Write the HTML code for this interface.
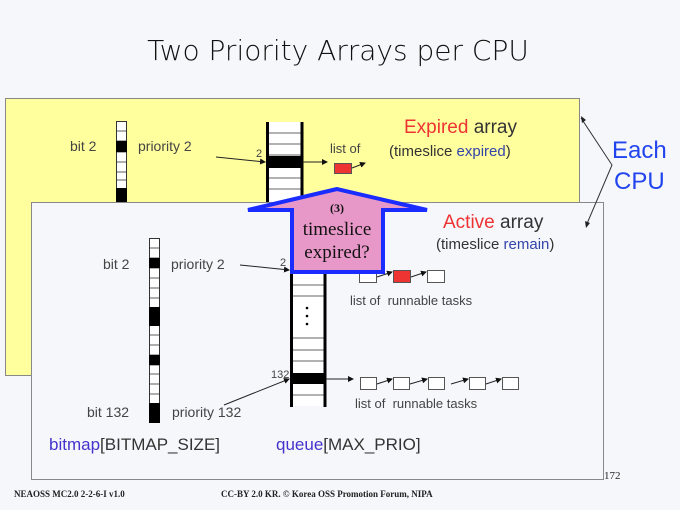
<!DOCTYPE html>
<html><head><meta charset="utf-8"><style>
html,body{margin:0;padding:0;background:#f6f7fb;}
svg{display:block;font-family:"Liberation Sans",sans-serif;}
</style></head><body>
<svg width="680" height="510" viewBox="0 0 680 510" xmlns="http://www.w3.org/2000/svg">
<defs>
<marker id="ah" markerWidth="6" markerHeight="6" refX="5" refY="3" orient="auto" markerUnits="userSpaceOnUse"><path d="M0,0 L6,3 L0,6z" fill="#111"/></marker>
</defs>
<rect width="680" height="510" fill="#f6f7fb"/>
<text x="338" y="60" font-size="28" text-anchor="middle" fill="#111" font-family="DejaVu Sans, sans-serif" font-weight="300">Two Priority Arrays per CPU</text>

<!-- back yellow box -->
<rect x="5.5" y="98.5" width="574" height="277" fill="#ffff9e" stroke="#888"/>
<text x="70" y="151" font-size="14" fill="#444">bit 2</text>
<text x="138" y="151" font-size="14" fill="#444">priority 2</text>
<rect x="116.5" y="121.5" width="10" height="80" stroke="#333" fill="#fff"/>
<g stroke="#333" stroke-width="0.8">
<line x1="116" y1="131" x2="127" y2="131"/><line x1="116" y1="141" x2="127" y2="141"/><line x1="116" y1="152" x2="127" y2="152"/><line x1="116" y1="162" x2="127" y2="162"/><line x1="116" y1="172" x2="127" y2="172"/><line x1="116" y1="180" x2="127" y2="180"/>
</g>
<rect x="116" y="141" width="11" height="11" fill="#000"/>
<rect x="116" y="188" width="11" height="14" fill="#000"/>
<!-- back queue -->
<rect x="267" y="122" width="35" height="80" fill="#fff"/>
<g stroke="#333" stroke-width="0.8">
<line x1="267" y1="133" x2="302" y2="133"/><line x1="267" y1="144" x2="302" y2="144"/><line x1="267" y1="155" x2="302" y2="155"/><line x1="267" y1="178" x2="302" y2="178"/><line x1="267" y1="189" x2="302" y2="189"/>
</g>
<rect x="267" y="156" width="35" height="12" fill="#000"/>
<line x1="267.5" y1="122" x2="267.5" y2="205" stroke="#000" stroke-width="3"/>
<line x1="302" y1="122" x2="302" y2="205" stroke="#000" stroke-width="3"/>
<text x="256" y="157" font-size="11" fill="#444">2</text>
<line x1="216" y1="157" x2="265" y2="162" stroke="#222" marker-end="url(#ah)"/>
<line x1="303" y1="162" x2="327" y2="162" stroke="#222" marker-end="url(#ah)"/>
<text x="330" y="153" font-size="13" fill="#444">list of</text>
<rect x="334.5" y="163.5" width="17" height="10" fill="#e33" stroke="#555"/>
<line x1="352" y1="168" x2="365" y2="163" stroke="#222" marker-end="url(#ah)"/>
<text x="404" y="133" font-size="19"><tspan fill="#e33">Expired</tspan><tspan fill="#333"> array</tspan></text>
<text x="389" y="156" font-size="15" fill="#333">(timeslice <tspan fill="#3344aa">expired</tspan>)</text>

<text x="612" y="158" font-size="24" fill="#2244ee">Each</text>
<text x="614" y="189" font-size="24" fill="#2244ee">CPU</text>

<!-- front box -->
<rect x="31.5" y="202.5" width="572" height="277" fill="#f6f7fb" stroke="#888"/>

<!-- brace arrows -->
<polyline points="581,118 612,165 586,226" fill="none" stroke="#333"/>
<path d="M581,116 l1,7 l4,-3z" fill="#222"/>
<path d="M586,228 l-1,-7 l5,2z" fill="#222"/>

<text x="103" y="269" font-size="14" fill="#444">bit 2</text>
<text x="171" y="269" font-size="14" fill="#444">priority 2</text>
<text x="87" y="417" font-size="14" fill="#444">bit 132</text>
<text x="172" y="417" font-size="14" fill="#444">priority 132</text>
<rect x="149.5" y="238.5" width="10" height="184" fill="#fff" stroke="#333"/>
<g stroke="#333" stroke-width="0.8">
<line x1="149" y1="248" x2="160" y2="248"/><line x1="149" y1="258" x2="160" y2="258"/><line x1="149" y1="268" x2="160" y2="268"/><line x1="149" y1="278" x2="160" y2="278"/><line x1="149" y1="288" x2="160" y2="288"/><line x1="149" y1="298" x2="160" y2="298"/><line x1="149" y1="335" x2="160" y2="335"/><line x1="149" y1="345" x2="160" y2="345"/><line x1="149" y1="355" x2="160" y2="355"/><line x1="149" y1="365" x2="160" y2="365"/><line x1="149" y1="374" x2="160" y2="374"/><line x1="149" y1="384" x2="160" y2="384"/><line x1="149" y1="394" x2="160" y2="394"/>
</g>
<rect x="149" y="258" width="11" height="10" fill="#000"/>
<rect x="149" y="307" width="11" height="19" fill="#000"/>
<rect x="149" y="355" width="11" height="10" fill="#000"/>
<rect x="149" y="403" width="11" height="20" fill="#000"/>
<!-- front queue -->
<rect x="291" y="230" width="34" height="176" fill="#fff"/>
<g stroke="#333" stroke-width="0.8">
<line x1="291" y1="285" x2="325" y2="285"/><line x1="291" y1="296" x2="325" y2="296"/><line x1="291" y1="338" x2="325" y2="338"/><line x1="291" y1="350" x2="325" y2="350"/><line x1="291" y1="361" x2="325" y2="361"/><line x1="291" y1="395" x2="325" y2="395"/>
</g>
<rect x="291" y="373" width="34" height="11" fill="#000"/>
<circle cx="307" cy="308" r="1.3" fill="#000"/><circle cx="307" cy="316" r="1.3" fill="#000"/><circle cx="307" cy="324" r="1.3" fill="#000"/>
<line x1="291.5" y1="230" x2="291.5" y2="407" stroke="#000" stroke-width="3"/>
<line x1="325" y1="230" x2="325" y2="407" stroke="#000" stroke-width="3"/>
<text x="280" y="266" font-size="11" fill="#444">2</text>
<line x1="240" y1="265" x2="289" y2="270" stroke="#222" marker-end="url(#ah)"/>
<text x="271" y="378" font-size="11" fill="#444">132</text>
<line x1="224" y1="405" x2="289" y2="379" stroke="#222" marker-end="url(#ah)"/>
<line x1="326" y1="379" x2="353" y2="379" stroke="#222" marker-end="url(#ah)"/>
<g stroke="#555" fill="#fff">
<rect x="359.5" y="270.5" width="17" height="12"/>
<rect x="393.5" y="270.5" width="17" height="12" fill="#e33"/>
<rect x="427.5" y="270.5" width="17" height="12"/>
<rect x="360.5" y="377.5" width="16" height="12"/>
<rect x="393.5" y="377.5" width="16" height="12"/>
<rect x="428.5" y="377.5" width="16" height="12"/>
<rect x="469.5" y="377.5" width="16" height="12"/>
<rect x="502.5" y="377.5" width="16" height="12"/>
</g>
<g stroke="#222" marker-end="url(#ah)">
<line x1="377" y1="277" x2="392" y2="272"/><line x1="411" y1="277" x2="426" y2="272"/>
<line x1="377" y1="384" x2="392" y2="379"/><line x1="410" y1="384" x2="427" y2="379"/><line x1="451" y1="384" x2="468" y2="379"/><line x1="486" y1="384" x2="501" y2="379"/>
</g>
<text x="350" y="305" font-size="13" fill="#444" xml:space="preserve">list of  runnable tasks</text>
<text x="355" y="408" font-size="13" fill="#444" xml:space="preserve">list of  runnable tasks</text>
<text x="443" y="228" font-size="19"><tspan fill="#e33">Active</tspan><tspan fill="#333"> array</tspan></text>
<text x="436" y="249" font-size="15" fill="#333">(timeslice <tspan fill="#3344aa">remain</tspan>)</text>
<text x="49" y="450" font-size="17" fill="#333"><tspan fill="#4433cc">bitmap</tspan>[BITMAP_SIZE]</text>
<text x="276" y="450" font-size="17" fill="#333"><tspan fill="#4433cc">queue</tspan>[MAX_PRIO]</text>

<!-- big arrow -->
<polygon points="337,189 248,210 292,210 292,272 383,272 383,210 427,210" fill="#e898c8" stroke="#1a2cff" stroke-width="4" stroke-linejoin="miter"/>
<g font-family="Liberation Serif, serif" fill="#111" text-anchor="middle">
<text x="337" y="212" font-size="12" font-weight="bold">(3)</text>
<text x="337" y="235" font-size="19">timeslice</text>
<text x="337" y="258" font-size="19">expired?</text>
</g>

<text x="604" y="479" font-size="11" fill="#222" font-family="Liberation Serif, serif">172</text>
<g font-family="Liberation Serif, serif" font-weight="bold" font-size="9" fill="#222">
<text x="14" y="497">NEAOSS MC2.0 2-2-6-I v1.0</text>
<text x="221" y="497">CC-BY 2.0 KR. © Korea OSS Promotion Forum, NIPA</text>
</g>
</svg>
</body></html>
